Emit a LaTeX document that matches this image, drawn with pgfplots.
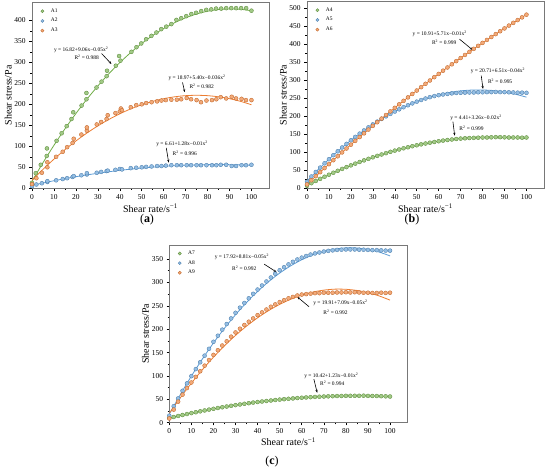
\documentclass[border=0pt]{standalone}
\usepackage{pgfplots}
\pgfplotsset{compat=1.18}
\usepackage{fontspec}
\setmainfont{Liberation Serif}
\usetikzlibrary{arrows.meta}
\definecolor{cgreen}{RGB}{112,173,71}
\definecolor{cblue}{RGB}{91,155,213}
\definecolor{corange}{RGB}{237,125,49}
\definecolor{axgray}{RGB}{120,120,120}
\newcommand{\ann}{\fontsize{5.5}{6}\selectfont}
\pgfplotsset{
  panel/.style={
    scale only axis,
    xmin=0, xmax=108, ymin=0,
    axis line style={draw=axgray, line width=0.6pt},
    tick align=outside, tick pos=left,
    xtick={0,10,...,100},
    minor x tick num=1, minor y tick num=1,
    major tick length=2.8pt, minor tick length=1.6pt,
    tick style={black, line width=0.5pt},
    tick label style={font=\fontsize{7.5}{8}\selectfont},
    /pgf/number format/assume math mode=true,
    xlabel={Shear rate/s\textsuperscript{−1}},
    ylabel={Shear stress/Pa},
    label style={font=\fontsize{9}{10}\selectfont},
    every axis x label/.style={at={(axis description cs:0.5,-0.108)}, anchor=center},
    every axis y label/.style={at={(axis description cs:-0.1,0.5)}, rotate=90, anchor=center},
    legend style={draw=none, fill=none, at={(axis description cs:0.02,0.985)}, anchor=north west,
      font=\fontsize{5.5}{6}\selectfont, row sep=0.6pt, inner sep=1pt},
    legend cell align=left,
    legend image code/.code={\pgfpathrectangle{\pgfpoint{0pt}{-1pt}}{\pgfpoint{11pt}{2pt}}\pgfusepath{}\draw[#1,mark size=1.6pt] plot coordinates {(4.5pt,0pt)};},
  },
  pts/.style={only marks, mark=*, mark size=2pt, mark options={fill=#1!65!white, draw=#1!80!black, line width=0.35pt}},
  fitl/.style={draw=#1, line width=0.8pt, smooth, no markers, forget plot},
}
\begin{document}
\begin{tikzpicture}
\useasboundingbox (0,0) rectangle (550bp,472bp);

% ---------------- (a)
\begin{axis}[panel, at={(32bp,283.7bp)}, anchor=south west, width=237bp, height=185.6bp,
  ymax=442, ytick={0,50,...,400}]
\addplot[pts=cgreen] coordinates {(0,13)(1.7,36)(4,56)(6.7,77)(6.8,95)(11.2,113)(13.5,131)(15.8,148)(18,165)(18.8,181)(22.6,197)(24.8,212)(24.8,227)(29.4,240)(31.7,254)(34,267)(34.2,280)(38.2,292)(39.7,315)(40.3,304)(45.3,325)(47.6,336)(49.8,345)(52,355)(54.4,363)(56.7,371)(58.9,379)(61.2,385)(63.5,391)(65.8,401)(68,405)(70.3,410)(72.6,415)(74.8,418)(77.1,422)(79.4,425)(81.7,426)(83.9,428)(86.2,428)(88.5,429)(90.8,429)(93,429)(95.3,429)(97.6,429)(100,423)};
\addlegendentry{A1}
\addplot[pts=cblue] coordinates {(0,5)(2,9)(4.5,12)(7,15)(7,17)(11,19)(14,22)(16,24)(18.5,27)(19,29)(22.5,31)(25,33)(25,36)(29.5,37)(31.5,39)(34,41)(34.5,42)(38,44)(40,46)(41,45)(45,48)(47.5,49)(50,50)(52,51)(54.5,52)(57,53)(59,53)(61,54)(63.5,55)(66,55)(68,55)(70.5,55)(72.5,55)(75,55)(77,55)(79.5,55)(82,55)(84,55)(86,56)(88.5,56)(91,53)(93,53)(95.5,55)(97.5,55)(100,56)};
\addlegendentry{A2}
\addplot[pts=corange] coordinates {(0,10)(2,24)(4.5,37)(7,50)(7,62)(11,75)(14,87)(16,98)(18.5,108)(19,118)(22.5,128)(25,137)(25,145)(29.5,152)(31.5,158)(34,165)(34.5,174)(38,179)(40,183)(40.5,190)(41,186)(45,193)(47.5,198)(50,200)(52,203)(54.5,205)(57,207)(59,209)(61,210)(63.5,211)(66,211)(68,212)(70.5,215)(72.5,212)(75,210)(77,205)(79.5,209)(82,210)(84,212)(86,217)(88.5,214)(91,218)(93,214)(95.5,213)(97.5,210)(100,210)};
\addlegendentry{A3}
\addplot[fitl=cgreen] coordinates {(0,16.8)(5,60.9)(10,102.4)(15,141.5)(20,178)(25,212.1)(30,243.6)(35,272.7)(40,299.2)(45,323.3)(50,344.8)(55,363.9)(60,380.4)(65,394.5)(70,406)(75,415.1)(80,421.6)(85,425.7)(90,427.2)(95,426.3)(100,422.8)};
\addplot[fitl=cblue] coordinates {(0,7)(10,18)(20,27.6)(30,35.8)(40,42.7)(50,48.2)(60,52.3)(70,55)(80,56.4)(90,56.3)(100,55)};
\addplot[fitl=corange] coordinates {(0,19)(5,45.1)(10,69.4)(15,91.9)(20,112.6)(25,131.5)(30,148.6)(35,163.9)(40,177.4)(45,189.1)(50,199)(55,207.1)(60,213.4)(65,217.9)(70,220.6)(75,221.5)(80,220.6)(85,217.9)(90,213.4)(95,207.1)(100,199)};
\node[font=\ann] at (axis cs:22.4,329) {y = 16.82+9.06x−0.05x\textsuperscript{2}};
\node[font=\ann] at (axis cs:24.9,311) {R\textsuperscript{2} = 0.988};
\draw[-{Stealth[length=3pt,width=2.2pt]}, line width=0.6pt] (axis cs:31.7,321) -- (axis cs:36.2,296);
\node[font=\ann] at (axis cs:75.2,263) {y = 18.97+5.40x−0.036x\textsuperscript{2}};
\node[font=\ann] at (axis cs:77.3,243) {R\textsuperscript{2} = 0.982};
\draw[-{Stealth[length=3pt,width=2.2pt]}, line width=0.6pt] (axis cs:68.6,252) -- (axis cs:69.6,229);
\node[font=\ann] at (axis cs:68.4,105.5) {y = 6.61+1.28x−0.01x\textsuperscript{2}};
\node[font=\ann] at (axis cs:69.6,83) {R\textsuperscript{2} = 0.996};
\draw[-{Stealth[length=3pt,width=2.2pt]}, line width=0.6pt] (axis cs:61.2,96) -- (axis cs:62.3,61);
\end{axis}

% ---------------- (b)
\begin{axis}[panel, at={(307bp,283.7bp)}, anchor=south west, width=237bp, height=186.6bp,
  ymax=518, ytick={0,50,...,500}]
\addplot[pts=cgreen] coordinates {(0,7)(2,14.2)(4,20.3)(6,26.3)(8,32.1)(10,37.7)(12,43.2)(14,48.6)(16,53.8)(18,58.8)(20,63.7)(22,68.5)(24,73.1)(26,77.5)(28,81.8)(30,86)(32,90)(34,93.9)(36,97.6)(38,101.2)(40,104.6)(42,107.8)(44,111)(46,113.9)(48,116.8)(50,119.4)(52,122)(54,124.3)(56,126.6)(58,128.6)(60,130.6)(62,132.4)(64,134)(66,135.5)(68,136.8)(70,138)(72,138.8)(74,139.5)(76,140)(78,140.5)(80,141)(82,141)(84,141.5)(86,142)(88,142)(90,141.5)(92,141)(94,141)(96,141)(98,140.5)(100,141)};
\addlegendentry{A4}
\addplot[pts=cblue] coordinates {(0,18)(2,32.8)(4,45.3)(6,57.4)(8,69.3)(10,80.7)(12,91.9)(14,102.7)(16,113.2)(18,123.3)(20,133.2)(22,142.7)(24,151.8)(26,160.6)(28,169.1)(30,177.3)(32,185.1)(34,192.6)(36,199.7)(38,206.6)(40,213)(42,219.2)(44,225)(46,230.5)(48,235.7)(50,240.5)(52,245)(54,249.2)(56,253)(58,256)(60,258.5)(62,260.5)(64,262)(66,263.5)(68,264.5)(70,265)(72,265.5)(74,266)(76,266)(78,266.5)(80,266.5)(82,267)(84,267)(86,267.5)(88,267)(90,267)(92,266.5)(94,266)(96,265.5)(98,265.5)(100,265)};
\addlegendentry{A5}
\addplot[pts=corange] coordinates {(0,10.9)(2,22.3)(4,33.6)(6,44.8)(8,56)(10,67)(12,78)(14,88.9)(16,99.7)(18,110.5)(20,121.1)(22,131.7)(24,142.2)(26,152.6)(28,163)(30,173.2)(32,183.4)(34,193.5)(36,203.5)(38,213.5)(40,223.3)(42,233.1)(44,242.8)(46,252.4)(48,262)(50,271.4)(52,280.8)(54,290.1)(56,299.3)(58,308.5)(60,317.5)(62,326.5)(64,335.4)(66,344.2)(68,353)(70,361.6)(72,370.2)(74,378.7)(76,387.1)(78,395.5)(80,403.7)(82,411.9)(84,420)(86,428)(88,436)(90,443.8)(92,451.6)(94,459.3)(96,466.9)(98,474.5)(100,482)};
\addlegendentry{A6}
\addplot[fitl=cgreen] coordinates {(0,8)(5,23.3)(10,37.7)(15,51.2)(20,63.7)(25,75.3)(30,86)(35,95.7)(40,104.6)(45,112.5)(50,119.4)(55,125.4)(60,130.6)(65,134.7)(70,138)(75,140.3)(80,141.8)(85,142.2)(90,141.7)(95,140.3)(100,138)};
\addplot[fitl=cblue] coordinates {(0,20)(5,51.4)(10,80.7)(15,108)(20,133.2)(25,156.3)(30,177.3)(35,196.2)(40,213)(45,227.8)(50,240.5)(55,251.1)(60,259.6)(65,266.1)(70,270.5)(75,272.7)(80,273)(85,271.1)(90,267.1)(95,261.1)(100,253)};
\addplot[fitl=corange] coordinates {(0,10.9)(10,67)(20,121.1)(30,173.2)(40,223.3)(50,271.4)(60,317.5)(70,361.6)(80,403.7)(90,443.8)(100,482)};
\node[font=\ann] at (axis cs:60.5,428) {y = 10.91+5.71x−0.01x\textsuperscript{2}};
\node[font=\ann] at (axis cs:62.5,405) {R\textsuperscript{2} = 0.999};
\draw[-{Stealth[length=3pt,width=2.2pt]}, line width=0.6pt] (axis cs:69.5,414) -- (axis cs:75.5,384);
\node[font=\ann] at (axis cs:87,325) {y = 20.71+6.51x−0.04x\textsuperscript{2}};
\node[font=\ann] at (axis cs:88,296) {R\textsuperscript{2} = 0.995};
\draw[-{Stealth[length=3pt,width=2.2pt]}, line width=0.6pt] (axis cs:79.4,313) -- (axis cs:80.2,276);
\node[font=\ann] at (axis cs:77,195) {y = 4.41+3.26x−0.02x\textsuperscript{2}};
\node[font=\ann] at (axis cs:75,167) {R\textsuperscript{2} = 0.999};
\draw[-{Stealth[length=3pt,width=2.2pt]}, line width=0.6pt] (axis cs:66.5,185) -- (axis cs:67.3,146);
\end{axis}

% ---------------- (c)
\begin{axis}[panel, at={(169.3bp,49.3bp)}, anchor=south west, width=238.4bp, height=177.7bp,
  ymax=380, ytick={0,50,...,350}]
\addplot[pts=cgreen] coordinates {(0,10)(2,12.2)(4,14.4)(6,16.5)(8,18.5)(10,20.5)(12,22.4)(14,24.3)(16,26.2)(18,28)(20,29.7)(22,31.4)(24,33)(26,34.6)(28,36.1)(30,37.6)(32,39)(34,40.4)(36,41.7)(38,43)(40,44.2)(42,45.3)(44,46.4)(46,47.5)(48,48.5)(50,49.4)(52,50.3)(54,51.1)(56,51.9)(58,52.7)(60,53.4)(62,54)(64,54.6)(66,55.1)(68,55.6)(70,56)(72,56.4)(74,56.7)(76,57)(78,57.2)(80,57.4)(82,57.5)(84,57.5)(86,57.5)(88,57.8)(90,57.3)(92,57.2)(94,57)(96,56.7)(98,56.4)(100,56)};
\addlegendentry{A7}
\addplot[pts=cblue] coordinates {(0,15)(2,35.2)(4,51.9)(6,68.2)(8,84.1)(10,99.6)(12,114.6)(14,129.2)(16,143.4)(18,158)(20,173)(22,186)(24,199)(26,211)(28,223)(30,235)(32,246)(34,256)(36,266)(38,275.6)(40,284.7)(42,293.4)(44,302)(46,310.5)(48,318.5)(50,326)(52,332.5)(54,338.5)(56,344)(58,349)(60,353)(62,356.5)(64,359.5)(66,362)(68,364)(70,366)(72,367.5)(74,368.5)(76,369.5)(78,370)(80,370.5)(82,370.5)(84,370.5)(86,370)(88,370)(90,369.5)(92,369)(94,369)(96,368.5)(98,368)(100,368)};
\addlegendentry{A8}
\addplot[pts=corange] coordinates {(0,9)(2,28)(4,45)(6,60)(8,74)(10,86)(12,98)(14,110)(16,122)(18,134)(20,145)(22,155)(24,165)(26,174)(28,184)(30,193)(32,201)(34,209)(36,216)(38,223)(40,230)(42,236)(44,242)(46,248)(48,253)(50,258)(52,262)(54,266)(56,269)(58,272)(60,274)(62,275)(64,276)(66,277)(68,277)(70,278)(72,278)(74,278)(76,278.5)(78,278.5)(80,279)(82,278.5)(84,279)(86,278.5)(88,278)(90,278)(92,277.5)(94,277.5)(96,278)(98,277.5)(100,278)};
\addlegendentry{A9}
\addplot[fitl=cgreen] coordinates {(0,10)(10,20.5)(20,29.7)(30,37.6)(40,44.2)(50,49.4)(60,53.4)(70,56)(80,57.4)(90,57.3)(100,56)};
\addplot[fitl=cblue] coordinates {(0,18)(5,60.1)(10,99.6)(15,136.4)(20,170.5)(25,202.1)(30,230.9)(35,257.1)(40,280.7)(45,301.6)(50,319.9)(55,335.5)(60,348.4)(65,358.8)(70,366.4)(75,371.4)(80,373.8)(85,373.5)(90,370.5)(95,365)(100,356.7)};
\addplot[fitl=corange] coordinates {(0,20)(5,53.4)(10,84.5)(15,113.4)(20,140.1)(25,164.5)(30,186.7)(35,206.6)(40,224.3)(45,239.8)(50,253)(55,264)(60,272.8)(65,279.3)(70,283.5)(75,285.6)(80,285.3)(85,282.8)(90,278.1)(95,271.2)(100,262.1)};
\node[font=\ann] at (axis cs:32.9,354) {y = 17.92+8.81x−0.05x\textsuperscript{2}};
\node[font=\ann] at (axis cs:34,331) {R\textsuperscript{2} = 0.992};
\draw[-{Stealth[length=3pt,width=2.2pt]}, line width=0.6pt] (axis cs:43,339) -- (axis cs:48.6,322);
\node[font=\ann] at (axis cs:77.5,257) {y = 19.91+7.09x−0.05x\textsuperscript{2}};
\node[font=\ann] at (axis cs:75.3,236) {R\textsuperscript{2} = 0.992};
\draw[-{Stealth[length=3pt,width=2.2pt]}, line width=0.6pt] (axis cs:63.3,248) -- (axis cs:58,269);
\node[font=\ann] at (axis cs:73.4,101) {y = 10.42+1.23x−0.01x\textsuperscript{2}};
\node[font=\ann] at (axis cs:73.8,84) {R\textsuperscript{2} = 0.994};
\draw[-{Stealth[length=3pt,width=2.2pt]}, line width=0.6pt] (axis cs:65.5,93) -- (axis cs:67,64);
\end{axis}

\node[font=\fontsize{12}{14}\selectfont] at (147bp,252bp) {(\textbf{a})};
\node[font=\fontsize{12}{14}\selectfont] at (412bp,252bp) {(\textbf{b})};
\node[font=\fontsize{12}{14}\selectfont] at (272bp,10.3bp) {(\textbf{c})};
\end{tikzpicture}
\end{document}
